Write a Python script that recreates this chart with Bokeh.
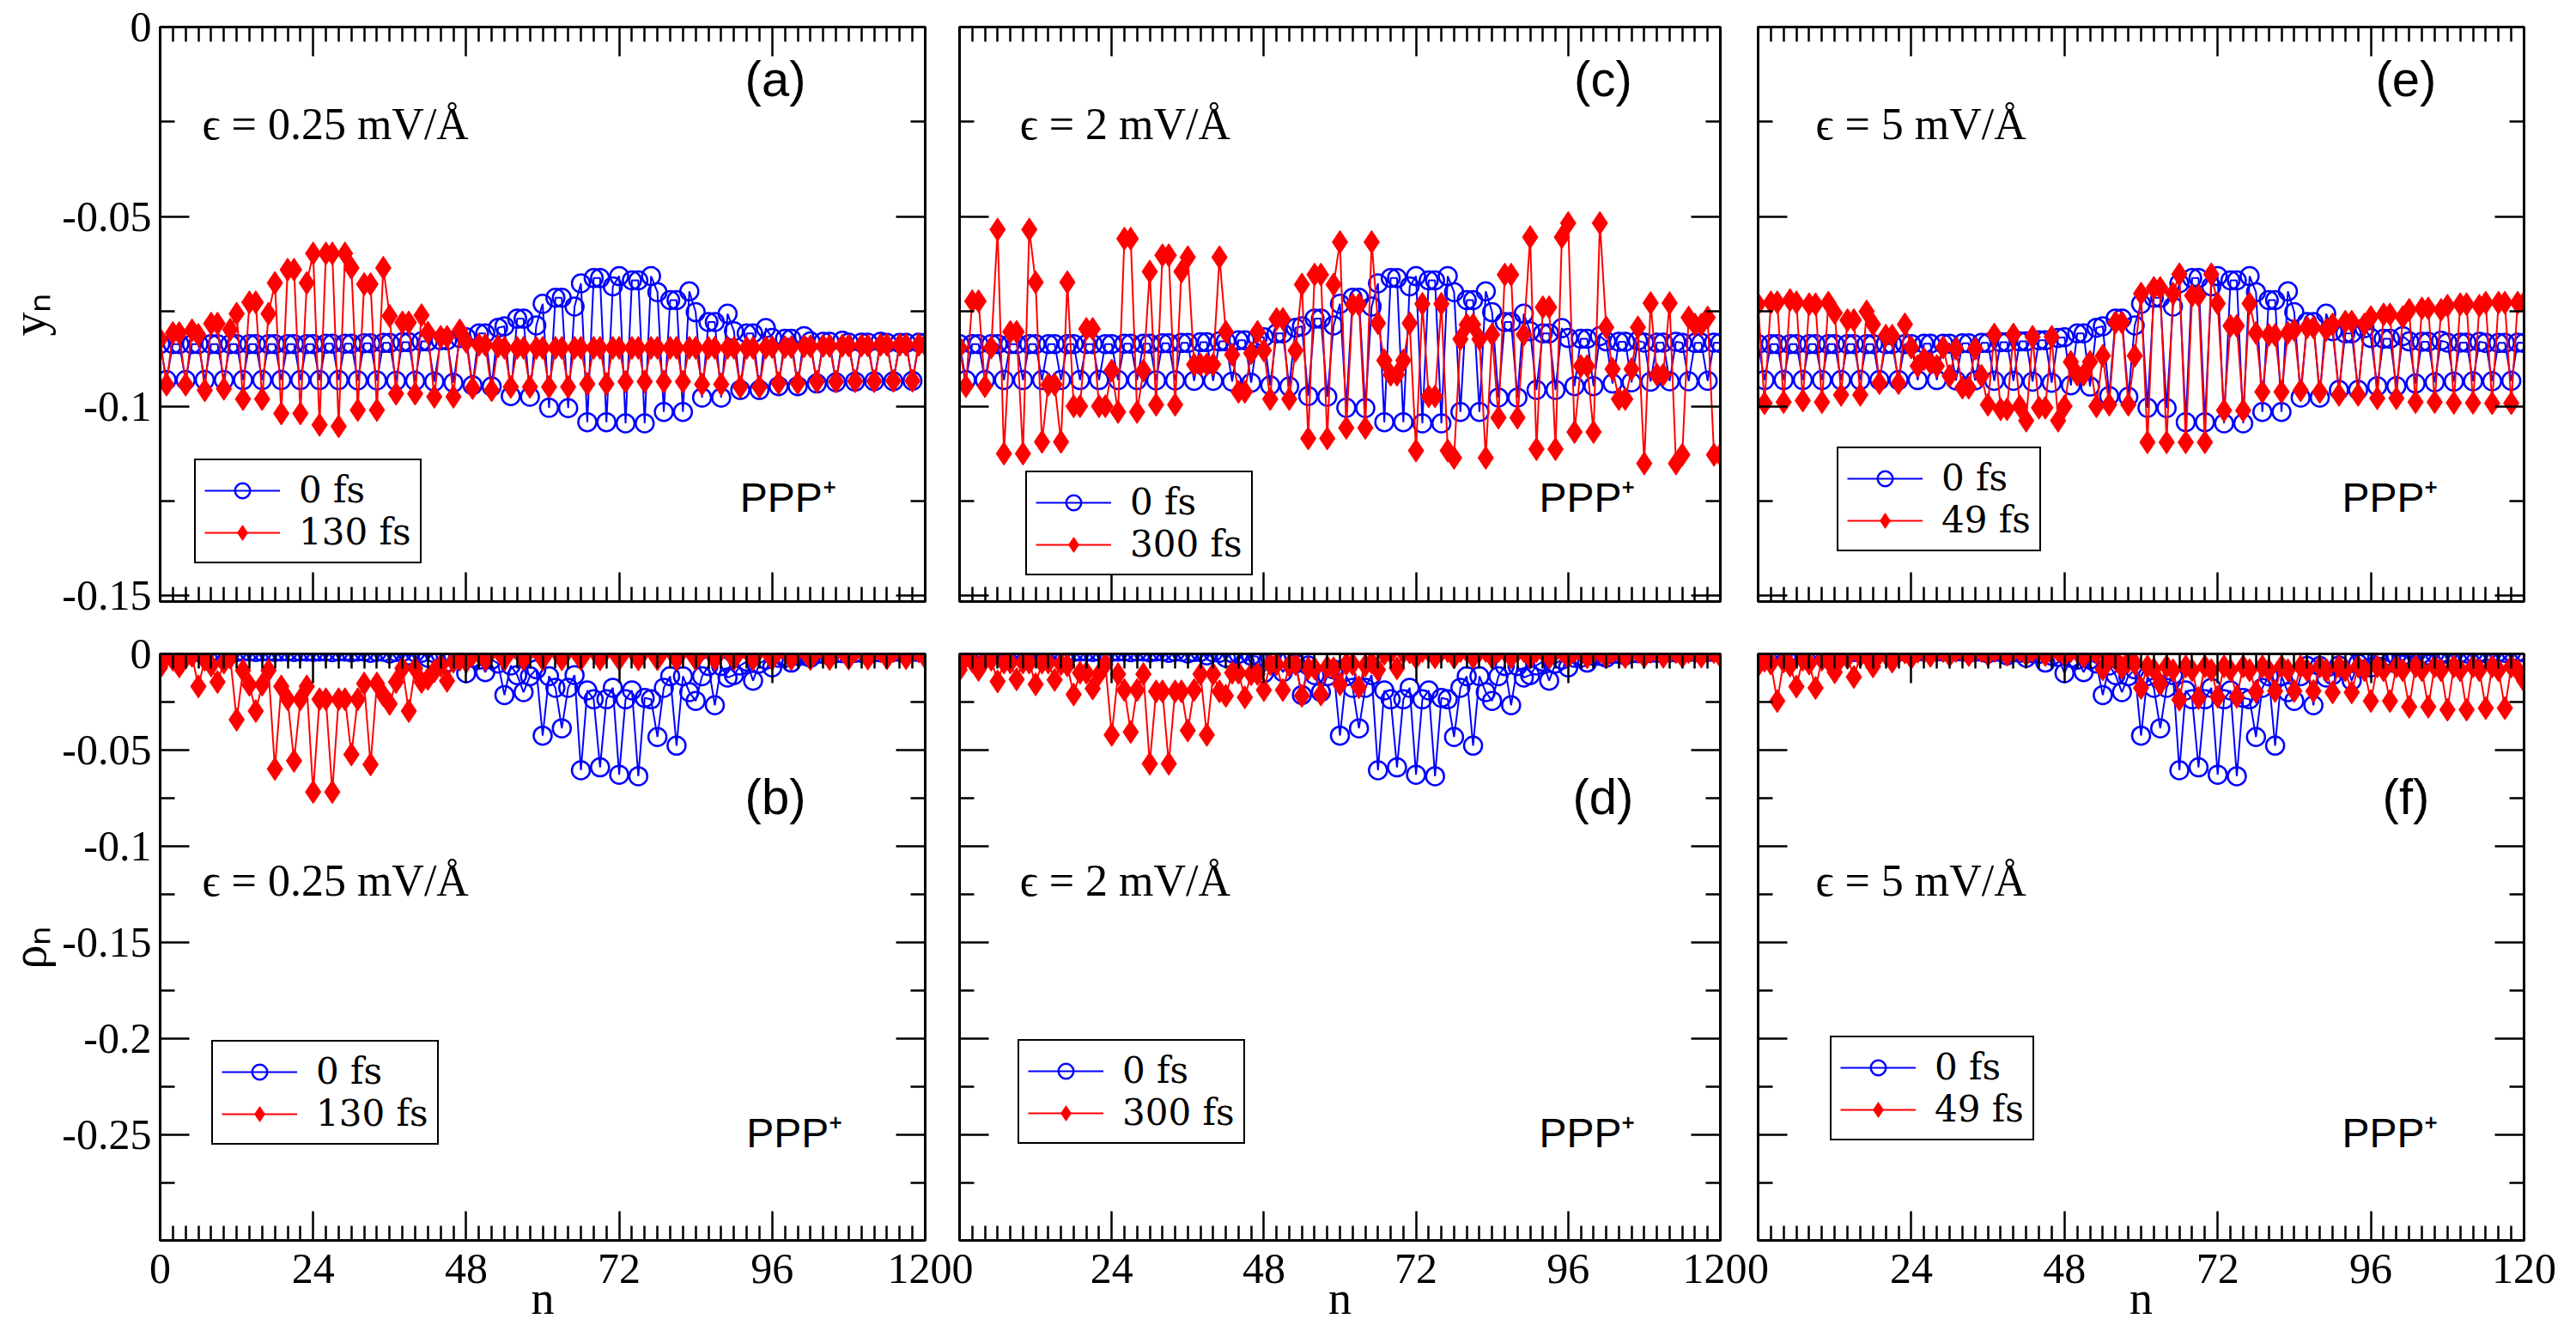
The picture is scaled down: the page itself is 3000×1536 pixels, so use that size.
from bokeh.plotting import figure
from bokeh.models import Range1d, FixedTicker, LinearAxis, Legend, LegendItem, Label
from bokeh.layouts import column, row
from bokeh.embed import file_html
from bokeh.resources import INLINE

# ---------------------------------------------------------------- data
# site index along the chain
SITES = list(range(121))

# lattice order parameter y_n of the initial polaron (0 fs), same in all runs
Y_0FS = [
    -0.0836, -0.0931, -0.0836, -0.0836, -0.0931, -0.0836,
    -0.0836, -0.0931, -0.0836, -0.0836, -0.0931, -0.0836,
    -0.0836, -0.0931, -0.0836, -0.0836, -0.0931, -0.0836,
    -0.0836, -0.0931, -0.0836, -0.0836, -0.0931, -0.0836,
    -0.0836, -0.0931, -0.0835, -0.0835, -0.0931, -0.0835,
    -0.0835, -0.0932, -0.0834, -0.0834, -0.0932, -0.0833,
    -0.0833, -0.0933, -0.0831, -0.0831, -0.0933, -0.0829,
    -0.0829, -0.0935, -0.0826, -0.0826, -0.0938, -0.0820,
    -0.0818, -0.0945, -0.0808, -0.0808, -0.0948, -0.0793,
    -0.0789, -0.0973, -0.0769, -0.0769, -0.0975, -0.0787,
    -0.0730, -0.1004, -0.0714, -0.0714, -0.1005, -0.0737,
    -0.0676, -0.1042, -0.0662, -0.0662, -0.1042, -0.0684,
    -0.0657, -0.1045, -0.0668, -0.0668, -0.1045, -0.0657,
    -0.0699, -0.1015, -0.0720, -0.0720, -0.1015, -0.0697,
    -0.0752, -0.0977, -0.0778, -0.0778, -0.0977, -0.0756,
    -0.0802, -0.0957, -0.0808, -0.0808, -0.0957, -0.0794,
    -0.0820, -0.0947, -0.0822, -0.0822, -0.0947, -0.0815,
    -0.0829, -0.0940, -0.0830, -0.0830, -0.0937, -0.0827,
    -0.0832, -0.0935, -0.0832, -0.0832, -0.0934, -0.0830,
    -0.0833, -0.0934, -0.0833, -0.0833, -0.0933, -0.0832,
    -0.0833,
]

# charge density rho_n of the initial polaron (0 fs)
RHO_0FS = [
    0.0010, 0.0012, 0.0012, 0.0010, 0.0012, 0.0012,
    0.0010, 0.0012, 0.0012, 0.0010, 0.0012, 0.0012,
    0.0010, 0.0012, 0.0012, 0.0010, 0.0012, 0.0012,
    0.0010, 0.0012, 0.0012, 0.0010, 0.0012, 0.0012,
    0.0010, 0.0012, 0.0012, 0.0009, 0.0012, 0.0012,
    0.0008, 0.0012, 0.0012, 0.0006, 0.0011, 0.0011,
    0.0002, 0.0010, 0.0010, -0.0008, 0.0008, 0.0006,
    -0.0020, 0.0004, 0.0000, -0.0045, -0.0010, -0.0015,
    -0.0100, -0.0020, -0.0030, -0.0095, -0.0030, -0.0050,
    -0.0214, -0.0060, -0.0110, -0.0199, -0.0116, -0.0080,
    -0.0425, -0.0116, -0.0176, -0.0387, -0.0176, -0.0110,
    -0.0605, -0.0190, -0.0236, -0.0590, -0.0236, -0.0176,
    -0.0628, -0.0236, -0.0190, -0.0636, -0.0229, -0.0236,
    -0.0432, -0.0176, -0.0116, -0.0477, -0.0116, -0.0199,
    -0.0244, -0.0116, -0.0063, -0.0267, -0.0063, -0.0123,
    -0.0110, -0.0060, -0.0040, -0.0139, -0.0050, -0.0030,
    -0.0070, -0.0020, -0.0020, -0.0045, -0.0010, -0.0010,
    -0.0020, 0.0000, 0.0000, -0.0008, 0.0004, 0.0004,
    0.0000, 0.0006, 0.0006, 0.0002, 0.0008, 0.0008,
    0.0004, 0.0010, 0.0010, 0.0006, 0.0010, 0.0010,
    0.0008,
]

# eps = 0.25 mV/A, t = 130 fs
Y_130FS = [
    -0.0823, -0.0943, -0.0807, -0.0807, -0.0943, -0.0800,
    -0.0812, -0.0958, -0.0782, -0.0782, -0.0954, -0.0798,
    -0.0756, -0.0981, -0.0726, -0.0726, -0.0981, -0.0756,
    -0.0675, -0.1019, -0.0640, -0.0640, -0.1019, -0.0675,
    -0.0597, -0.1049, -0.0597, -0.0597, -0.1053, -0.0597,
    -0.0635, -0.1010, -0.0678, -0.0678, -0.1010, -0.0635,
    -0.0762, -0.0967, -0.0779, -0.0779, -0.0967, -0.0760,
    -0.0806, -0.0975, -0.0817, -0.0817, -0.0975, -0.0800,
    -0.0830, -0.0952, -0.0838, -0.0838, -0.0958, -0.0842,
    -0.0846, -0.0949, -0.0846, -0.0846, -0.0949, -0.0846,
    -0.0846, -0.0949, -0.0846, -0.0846, -0.0949, -0.0846,
    -0.0846, -0.0941, -0.0846, -0.0846, -0.0941, -0.0846,
    -0.0846, -0.0935, -0.0846, -0.0846, -0.0935, -0.0846,
    -0.0846, -0.0935, -0.0846, -0.0846, -0.0935, -0.0846,
    -0.0846, -0.0942, -0.0846, -0.0846, -0.0942, -0.0846,
    -0.0846, -0.0949, -0.0846, -0.0846, -0.0949, -0.0845,
    -0.0844, -0.0939, -0.0844, -0.0844, -0.0939, -0.0842,
    -0.0842, -0.0935, -0.0841, -0.0841, -0.0935, -0.0840,
    -0.0840, -0.0934, -0.0840, -0.0840, -0.0934, -0.0838,
    -0.0838, -0.0933, -0.0838, -0.0838, -0.0933, -0.0838,
    -0.0838,
]

RHO_130FS = [
    -0.0070, -0.0010, -0.0030, -0.0065, -0.0020, -0.0010,
    -0.0169, -0.0030, -0.0060, -0.0146, -0.0045, -0.0020,
    -0.0342, -0.0086, -0.0161, -0.0297, -0.0160, -0.0086,
    -0.0598, -0.0169, -0.0236, -0.0556, -0.0236, -0.0169,
    -0.0718, -0.0236, -0.0236, -0.0718, -0.0236, -0.0236,
    -0.0523, -0.0236, -0.0154, -0.0575, -0.0154, -0.0214,
    -0.0260, -0.0146, -0.0075, -0.0297, -0.0075, -0.0146,
    -0.0130, -0.0090, -0.0060, -0.0140, -0.0040, -0.0030,
    -0.0040, -0.0005, 0.0005, -0.0030, 0.0018, 0.0020,
    -0.0028, 0.0022, 0.0022, -0.0028, 0.0022, 0.0022,
    -0.0028, 0.0022, 0.0022, -0.0028, 0.0022, 0.0022,
    -0.0028, 0.0022, 0.0022, -0.0028, 0.0022, 0.0022,
    -0.0028, 0.0022, 0.0022, -0.0028, 0.0022, 0.0022,
    -0.0028, 0.0022, 0.0022, -0.0028, 0.0022, 0.0022,
    -0.0028, 0.0022, 0.0022, -0.0028, 0.0022, 0.0022,
    -0.0028, 0.0022, 0.0022, -0.0028, 0.0022, 0.0022,
    -0.0027, 0.0021, 0.0021, -0.0027, 0.0021, 0.0021,
    -0.0026, 0.0020, 0.0020, -0.0026, 0.0018, 0.0018,
    -0.0024, 0.0016, 0.0016, -0.0024, 0.0015, 0.0015,
    -0.0022, 0.0014, 0.0014, -0.0022, 0.0013, 0.0013,
    -0.0020,
]

# eps = 2 mV/A, t = 300 fs
Y_300FS = [
    -0.0845, -0.0947, -0.0723, -0.0723, -0.0947, -0.0845,
    -0.0534, -0.1125, -0.0804, -0.0804, -0.1125, -0.0534,
    -0.0673, -0.1094, -0.0943, -0.0943, -0.1094, -0.0673,
    -0.1000, -0.1000, -0.0796, -0.0796, -0.1000, -0.1000,
    -0.0906, -0.1015, -0.0558, -0.0558, -0.1015, -0.0906,
    -0.0645, -0.0996, -0.0602, -0.0602, -0.0996, -0.0645,
    -0.0607, -0.0890, -0.0890, -0.0890, -0.0890, -0.0607,
    -0.0804, -0.0864, -0.0962, -0.0962, -0.0860, -0.0804,
    -0.0853, -0.0981, -0.0770, -0.0770, -0.0981, -0.0853,
    -0.0679, -0.1085, -0.0653, -0.0653, -0.1085, -0.0679,
    -0.0567, -0.1057, -0.0732, -0.0732, -0.1057, -0.0567,
    -0.0781, -0.0879, -0.0917, -0.0917, -0.0879, -0.0781,
    -0.1117, -0.0730, -0.0974, -0.0974, -0.0730, -0.1117,
    -0.1136, -0.0823, -0.0785, -0.0785, -0.0823, -0.1136,
    -0.0811, -0.1030, -0.0653, -0.0653, -0.1030, -0.0811,
    -0.0554, -0.1113, -0.0739, -0.0739, -0.1113, -0.0554,
    -0.0517, -0.1068, -0.0894, -0.0894, -0.1068, -0.0517,
    -0.0792, -0.0902, -0.0981, -0.0981, -0.0902, -0.0792,
    -0.1151, -0.0728, -0.0917, -0.0917, -0.0728, -0.1151,
    -0.1128, -0.0766, -0.0785, -0.0785, -0.0766, -0.1128,
    -0.1128,
]

RHO_300FS = [
    -0.0083, -0.0015, -0.0038, -0.0083, -0.0030, -0.0030,
    -0.0143, -0.0045, -0.0045, -0.0132, -0.0045, -0.0045,
    -0.0158, -0.0045, -0.0045, -0.0135, -0.0053, -0.0060,
    -0.0211, -0.0098, -0.0098, -0.0180, -0.0105, -0.0053,
    -0.0421, -0.0105, -0.0188, -0.0406, -0.0188, -0.0105,
    -0.0571, -0.0195, -0.0195, -0.0571, -0.0195, -0.0195,
    -0.0398, -0.0188, -0.0105, -0.0421, -0.0105, -0.0195,
    -0.0218, -0.0098, -0.0098, -0.0226, -0.0105, -0.0105,
    -0.0188, -0.0053, -0.0053, -0.0188, -0.0060, -0.0053,
    -0.0218, -0.0075, -0.0075, -0.0211, -0.0068, -0.0075,
    -0.0158, -0.0053, -0.0053, -0.0173, -0.0060, -0.0045,
    -0.0083, 0.0000, 0.0008, -0.0075, 0.0008, 0.0008,
    -0.0020, 0.0015, 0.0015, -0.0018, 0.0015, 0.0015,
    -0.0018, 0.0015, 0.0015, -0.0018, 0.0015, 0.0015,
    -0.0018, 0.0015, 0.0015, -0.0018, 0.0015, 0.0015,
    -0.0018, 0.0015, 0.0015, -0.0018, 0.0015, 0.0015,
    -0.0017, 0.0014, 0.0014, -0.0017, 0.0013, 0.0013,
    -0.0016, 0.0012, 0.0012, -0.0016, 0.0012, 0.0012,
    -0.0015, 0.0011, 0.0011, -0.0015, 0.0010, 0.0010,
    -0.0014, 0.0010, 0.0010, -0.0014, 0.0010, 0.0010,
    -0.0012,
]

# eps = 5 mV/A, t = 49 fs
Y_49FS = [
    -0.0731, -0.0992, -0.0726, -0.0726, -0.0989, -0.0720,
    -0.0726, -0.0985, -0.0731, -0.0731, -0.0989, -0.0727,
    -0.0754, -0.0970, -0.0773, -0.0773, -0.0970, -0.0750,
    -0.0784, -0.0939, -0.0814, -0.0814, -0.0939, -0.0784,
    -0.0845, -0.0894, -0.0875, -0.0886, -0.0894, -0.0845,
    -0.0920, -0.0848, -0.0951, -0.0951, -0.0848, -0.0920,
    -0.0996, -0.0811, -0.1008, -0.1008, -0.0811, -0.1000,
    -0.1038, -0.0817, -0.1004, -0.1004, -0.0817, -0.1038,
    -0.1000, -0.0883, -0.0917, -0.0917, -0.0883, -0.1000,
    -0.0867, -0.0996, -0.0779, -0.0779, -0.0996, -0.0867,
    -0.0703, -0.1095, -0.0688, -0.0688, -0.1095, -0.0703,
    -0.0652, -0.1095, -0.0708, -0.0708, -0.1095, -0.0652,
    -0.0729, -0.1011, -0.0788, -0.0788, -0.1011, -0.0729,
    -0.0807, -0.0962, -0.0812, -0.0812, -0.0962, -0.0807,
    -0.0799, -0.0958, -0.0792, -0.0792, -0.0962, -0.0799,
    -0.0784, -0.0970, -0.0777, -0.0777, -0.0970, -0.0784,
    -0.0765, -0.0979, -0.0758, -0.0758, -0.0979, -0.0765,
    -0.0746, -0.0989, -0.0742, -0.0742, -0.0989, -0.0746,
    -0.0735, -0.0991, -0.0731, -0.0731, -0.0991, -0.0735,
    -0.0727, -0.0992, -0.0727, -0.0727, -0.0992, -0.0727,
    -0.0727,
]

RHO_49FS = [
    -0.0060, -0.0035, -0.0050, -0.0245, -0.0040, -0.0060,
    -0.0170, -0.0030, -0.0050, -0.0177, -0.0030, -0.0035,
    -0.0095, -0.0020, -0.0020, -0.0120, -0.0010, -0.0010,
    -0.0065, 0.0000, 0.0000, -0.0040, 0.0005, 0.0008,
    -0.0020, 0.0012, 0.0012, -0.0010, 0.0015, 0.0015,
    -0.0008, 0.0016, 0.0016, -0.0006, 0.0016, 0.0016,
    -0.0005, 0.0016, 0.0016, -0.0005, 0.0017, 0.0017,
    -0.0005, 0.0017, 0.0017, -0.0006, 0.0017, 0.0017,
    -0.0008, 0.0015, 0.0012, -0.0015, 0.0010, 0.0005,
    -0.0080, -0.0020, -0.0030, -0.0072, -0.0040, -0.0050,
    -0.0177, -0.0065, -0.0080, -0.0155, -0.0065, -0.0085,
    -0.0238, -0.0065, -0.0085, -0.0230, -0.0065, -0.0085,
    -0.0223, -0.0065, -0.0085, -0.0223, -0.0065, -0.0085,
    -0.0197, -0.0065, -0.0085, -0.0193, -0.0065, -0.0085,
    -0.0193, -0.0065, -0.0085, -0.0193, -0.0065, -0.0085,
    -0.0200, -0.0065, -0.0085, -0.0200, -0.0065, -0.0085,
    -0.0245, -0.0065, -0.0085, -0.0245, -0.0065, -0.0085,
    -0.0275, -0.0065, -0.0085, -0.0275, -0.0065, -0.0085,
    -0.0290, -0.0065, -0.0085, -0.0290, -0.0065, -0.0085,
    -0.0282, -0.0065, -0.0085, -0.0282, -0.0065, -0.0085,
    -0.0140,
]

# ticks
X_MAJOR = [0, 24, 48, 72, 96, 120]
X_MINOR = [m for m in range(0, 121, 2) if m % 24 != 0]
Y_TOP_MAJOR = [0, -0.05, -0.1, -0.15]
Y_TOP_MINOR = [-0.025, -0.075, -0.125]
Y_BOT_MAJOR = [0, -0.05, -0.1, -0.15, -0.2, -0.25]
Y_BOT_MINOR = [-0.025, -0.075, -0.125, -0.175, -0.225, -0.275]
Y_TICK_TEXT = {0: "0", -0.05: "-0.05", -0.1: "-0.1", -0.15: "-0.15",
               -0.2: "-0.2", -0.25: "-0.25"}

# ---------------------------------------------------------------- style
SERIF = "Liberation Serif"
LEGEND_FONT = "DejaVu Serif"
SANS = "Liberation Sans"
BLUE = "#0000ff"
RED = "#ff0000"

COLS = [dict(left=186, right=31, fw=891),
        dict(left=9, right=31, fw=886),
        dict(left=13, right=61, fw=892)]
ROWS = [dict(top=31, bottom=30, fh=669, ylow=-0.1515,
             major=Y_TOP_MAJOR, minor=Y_TOP_MINOR, ylabel="yₙ",
             tag_y=-0.0135, eps_y=-0.0255, ppp_y=-0.124),
        dict(top=31, bottom=92, fh=683, ylow=-0.305,
             major=Y_BOT_MAJOR, minor=Y_BOT_MINOR, ylabel="ρₙ",
             tag_y=-0.074, eps_y=-0.118, ppp_y=-0.249)]


def add_axis(p, side, ticks, minor, labels=False, axis_label=None):
    ax = LinearAxis(ticker=FixedTicker(ticks=ticks, minor_ticks=minor))
    ax.axis_line_color = "black"
    ax.axis_line_width = 3
    ax.major_tick_in = 34
    ax.major_tick_out = 0
    ax.minor_tick_in = 17
    ax.minor_tick_out = 0
    ax.major_tick_line_width = 2.5
    ax.minor_tick_line_width = 2.5
    ax.major_tick_line_color = "black"
    ax.minor_tick_line_color = "black"
    if labels:
        ax.major_label_text_font = SERIF
        ax.major_label_text_font_size = "50px"
        ax.major_label_text_color = "black"
        ax.major_label_standoff = 10 if side == "left" else 16
        if side in ("left", "right"):
            ax.major_label_overrides = Y_TICK_TEXT
    else:
        # mirrored tick marks only
        ax.major_label_text_font_size = "1px"
        ax.major_label_text_color = None
        ax.major_label_standoff = 0
    if axis_label:
        ax.axis_label = axis_label
        ax.axis_label_text_font = SERIF
        ax.axis_label_text_font_style = "normal"
        ax.axis_label_text_color = "black"
        if side == "left":
            ax.axis_label_text_font_size = "56px"
            ax.axis_label_standoff = 4
        else:
            ax.axis_label_text_font_size = "54px"
            ax.axis_label_standoff = -15
    p.add_layout(ax, side)


def panel(ci, ri, y_init, y_late, late_label, tag, tag_x, ppp_x,
          eps_text, eps_x, legend_xy):
    c, r = COLS[ci], ROWS[ri]
    p = figure(frame_width=c["fw"], frame_height=r["fh"],
               x_range=Range1d(0, 120), y_range=Range1d(r["ylow"], 0),
               x_axis_location=None, y_axis_location=None,
               output_backend="svg", toolbar_location=None,
               min_border_left=c["left"], min_border_right=c["right"],
               min_border_top=r["top"], min_border_bottom=r["bottom"],
               background_fill_color="white", border_fill_color="white",
               outline_line_color="black", outline_line_width=3)
    p.grid.visible = False

    add_axis(p, "left", r["major"], r["minor"], labels=(ci == 0),
             axis_label=(r["ylabel"] if ci == 0 else None))
    add_axis(p, "right", r["major"], r["minor"])
    add_axis(p, "above", X_MAJOR, X_MINOR)
    add_axis(p, "below", X_MAJOR, X_MINOR, labels=(ri == 1),
             axis_label=("n" if ri == 1 else None))

    l0 = p.line(SITES, y_init, line_color=BLUE, line_width=2)
    s0 = p.scatter(SITES, y_init, marker="circle", size=21, line_color=BLUE,
                   line_width=2.5, fill_color=None)
    l1 = p.line(SITES, y_late, line_color=RED, line_width=2)
    s1 = p.scatter(SITES, y_late, marker="diamond", size=27, line_color=RED,
                   fill_color=RED, line_width=1)

    legend = Legend(items=[LegendItem(label="0 fs", renderers=[l0, s0]),
                           LegendItem(label=late_label, renderers=[l1, s1])],
                    location=legend_xy, orientation="vertical",
                    border_line_color="black", border_line_width=2.5,
                    border_line_alpha=1.0,
                    background_fill_color="white", background_fill_alpha=1.0,
                    label_text_font=LEGEND_FONT, label_text_font_size="42px",
                    label_text_color="black",
                    glyph_width=88, glyph_height=44, label_height=44,
                    label_standoff=22, padding=10, spacing=0, margin=0)
    p.add_layout(legend)

    p.add_layout(Label(x=tag_x, y=r["tag_y"], text=tag, text_font=SANS,
                       text_font_size="58px", text_align="center",
                       text_baseline="middle", text_color="black"))
    p.add_layout(Label(x=eps_x, y=r["eps_y"], text=eps_text, text_font=SERIF,
                       text_font_size="52px", text_align="left",
                       text_baseline="middle", text_color="black"))
    p.add_layout(Label(x=ppp_x, y=r["ppp_y"], text="PPP⁺", text_font=SANS,
                       text_font_size="48px", text_align="center",
                       text_baseline="middle", text_color="black"))
    return p


pa = panel(0, 0, Y_0FS, Y_130FS, "130 fs", "(a)", 96.5, 98.5,
           "ϵ = 0.25 mV/Å", 6.6, (40, 44))
pb = panel(0, 1, RHO_0FS, RHO_130FS, "130 fs", "(b)", 96.5, 99.5,
           "ϵ = 0.25 mV/Å", 6.6, (60, 111))
pc = panel(1, 0, Y_0FS, Y_300FS, "300 fs", "(c)", 101.5, 99.0,
           "ϵ = 2 mV/Å", 9.5, (77, 30))
pd = panel(1, 1, RHO_0FS, RHO_300FS, "300 fs", "(d)", 101.5, 99.0,
           "ϵ = 2 mV/Å", 9.5, (68, 112))
pe = panel(2, 0, Y_0FS, Y_49FS, "49 fs", "(e)", 101.5, 99.0,
           "ϵ = 5 mV/Å", 9.0, (92, 58))
pf = panel(2, 1, RHO_0FS, RHO_49FS, "49 fs", "(f)", 101.5, 99.0,
           "ϵ = 5 mV/Å", 9.0, (84, 116))

layout = column(row(pa, pc, pe, spacing=0), row(pb, pd, pf, spacing=0), spacing=0)

with open("out.html", "w", encoding="utf-8") as fh:
    fh.write(file_html(layout, INLINE))
